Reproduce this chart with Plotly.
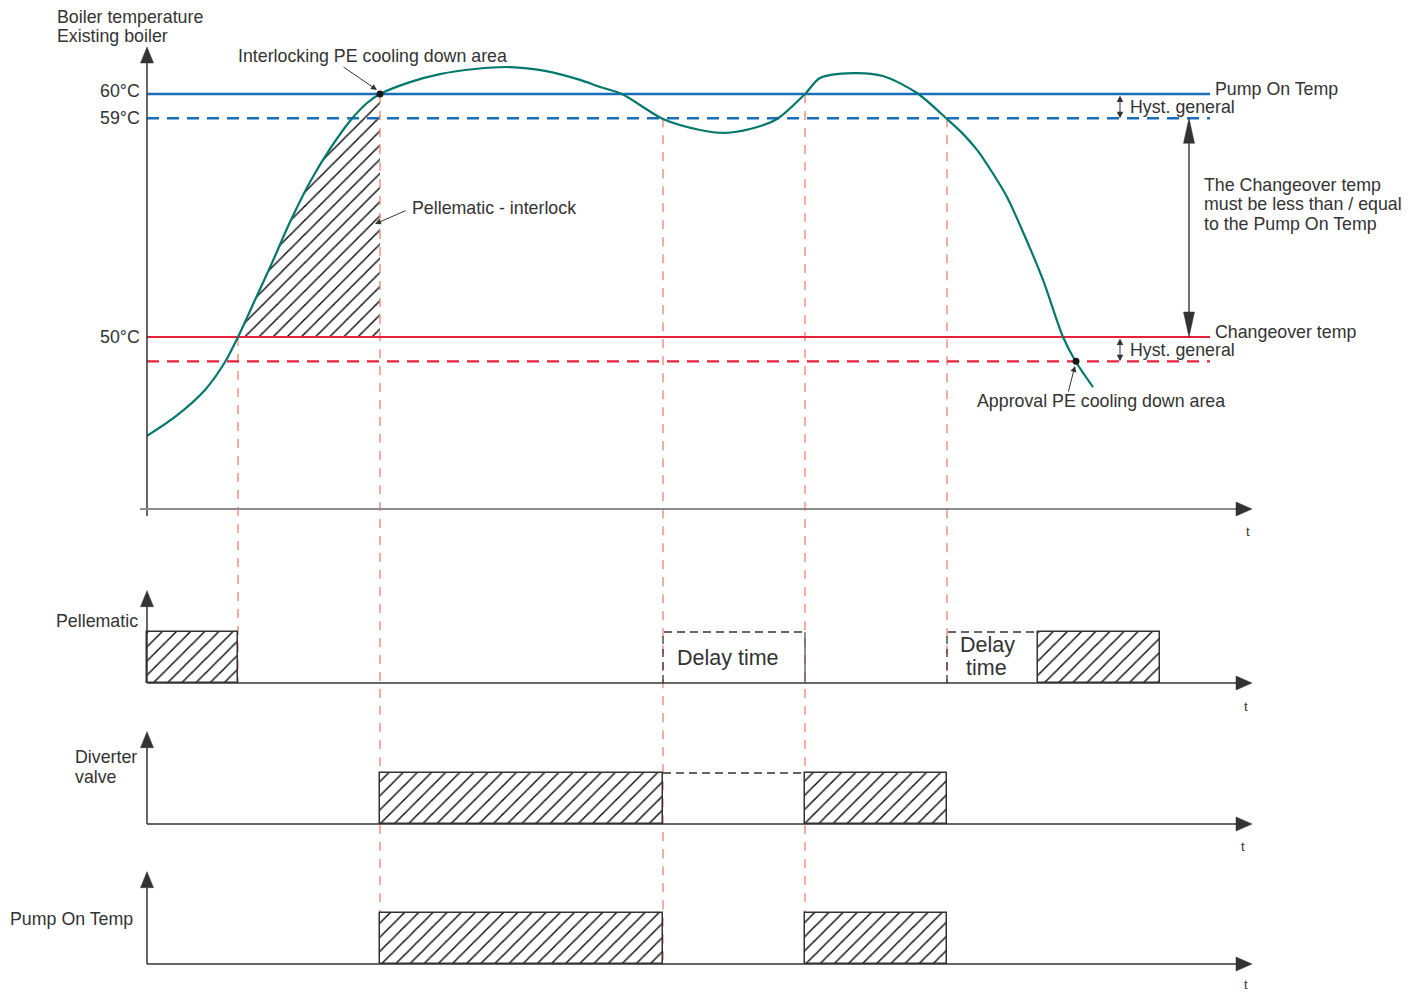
import plotly.graph_objects as go

# ---------------- data ----------------
# boiler temperature curve: time (arbitrary units) and temperature (°C)
time_pts = [0, 28, 58, 78, 91, 108, 125, 143, 163, 183, 203, 220, 233, 263, 293, 328,
            363, 398, 433, 453, 475, 516, 553, 578, 603, 630, 658, 673, 706, 736, 770,
            800, 815, 830, 845, 860, 876, 896, 916, 929, 946]
boiler_temp = [45.93, 46.71, 47.82, 48.97, 50.0, 51.52, 53.05, 54.73, 56.38, 57.74, 58.89,
               59.63, 60.0, 60.49, 60.82, 61.03, 61.11, 60.95, 60.58, 60.29, 60.0, 58.97,
               58.52, 58.40, 58.56, 58.97, 60.0, 60.66, 60.86, 60.74, 60.04, 58.97, 58.40,
               57.70, 56.79, 55.76, 54.32, 52.35, 50.0, 48.97, 47.94]

pump_on_temp = 60
hyst_general = 1
changeover_temp = 50
threshold_end = 1063
time_axis_end = 1105

# switching instants
t_above_50 = 91
t_reach_60 = 233
t_below_59_a = 516
t_above_60 = 658
t_below_59_b = 800
t_approval = 929

pellematic_on = [(0, 91), (891, 1013)]
pellematic_delay = [(516, 658), (800, 891)]
diverter_on = [(233, 516), (658, 800)]
diverter_wait = [(516, 658)]
pump_on = [(233, 516), (658, 800)]

# event lines: (time, temperature where it starts, panel where it ends)
event_lines = [(t_above_50, changeover_temp, "pel"),
               (t_reach_60, pump_on_temp, "pump"),
               (t_below_59_a, pump_on_temp - hyst_general, "pump"),
               (t_above_60, pump_on_temp, "pump"),
               (t_below_59_b, pump_on_temp - hyst_general, "pel")]

# ---------------- layout scales (screen pixels) ----------------
W, H = 1409, 984
SX0, SY0 = 8, 8        # page margin of the browser body
X_LEFT = 147           # screen column of t = 0
DEG_PX = 24.3          # pixels per °C
REF_PX = 94            # screen row of 60 °C
SIG_PX = 51            # pixels per signal level
BASE_PX = {"pel": 683, "div": 824, "pump": 964}
YAX = {"pel": "y2", "div": "y3", "pump": "y4"}


def T_py(py):
    return pump_on_temp - (py - REF_PX) / DEG_PX


def v_py(panel, py):
    return (BASE_PX[panel] - py) / SIG_PX


def sig_T(panel, v):
    return T_py(BASE_PX[panel] - v * SIG_PX)


INK = "#333333"
TEAL = "#00786c"
BLUE = "#1b6cb9"
RED = "#e5213b"
SALMON = "#f2897a"
FONT = "Liberation Sans, Arial, sans-serif"
FS = 17.8

fig = go.Figure()


def line(x, y, color=INK, width=1.5, dash="solid", yaxis="y"):
    fig.add_trace(go.Scatter(x=x, y=y, mode="lines", yaxis=yaxis, hoverinfo="skip",
                             line=dict(color=color, width=width, dash=dash)))


def tri_v(t, tip, up, length_px, width_px, px_unit, yaxis="y", color=INK):
    L = length_px / px_unit
    base = tip - L if up else tip + L
    hw = width_px / 2
    fig.add_trace(go.Scatter(x=[t - hw, t + hw, t, t - hw], y=[base, base, tip, base],
                             mode="lines", fill="toself", fillcolor=color, yaxis=yaxis,
                             line=dict(color=color, width=0.5), hoverinfo="skip"))


def tri_h(tip_t, y, length_px, width_px, px_unit, yaxis="y", color=INK):
    hw = width_px / 2 / px_unit
    b = tip_t - length_px
    fig.add_trace(go.Scatter(x=[b, b, tip_t, b], y=[y - hw, y + hw, y, y - hw],
                             mode="lines", fill="toself", fillcolor=color, yaxis=yaxis,
                             line=dict(color=color, width=0.5), hoverinfo="skip"))


HATCH = dict(shape="/", size=10, solidity=0.15, fgcolor="#111111", bgcolor="white", fgopacity=1)

# --- hatched interlock area under curve ---
hx = [t for t in time_pts if t_above_50 <= t <= t_reach_60]
hy = [boiler_temp[time_pts.index(t)] for t in hx]
fig.add_trace(go.Scatter(x=hx + [t_reach_60, t_above_50], y=hy + [changeover_temp, changeover_temp],
                         mode="lines", fill="toself", line=dict(width=0), hoverinfo="skip",
                         fillcolor="rgba(0,0,0,0)",
                         fillpattern=dict(shape="/", size=10, solidity=0.15, fgopacity=1,
                                          fgcolor="#111111", bgcolor="rgba(0,0,0,0)")))

# --- vertical event lines ---
for t, T0, panel in event_lines:
    line([t, t], [T0, sig_T(panel, 0)], color=SALMON, width=1.4, dash="9px,8px")

# --- thresholds ---
line([0, threshold_end], [pump_on_temp] * 2, color=BLUE, width=2.4)
line([0, threshold_end], [pump_on_temp - hyst_general] * 2, color=BLUE, width=2.4, dash="12px,8px")
line([0, threshold_end], [changeover_temp] * 2, color=RED, width=2.2)
line([0, threshold_end], [changeover_temp - hyst_general] * 2, color=RED, width=2.2, dash="12px,8px")

# --- temperature curve ---
fig.add_trace(go.Scatter(x=time_pts, y=boiler_temp, mode="lines", hoverinfo="skip",
                         line=dict(color=TEAL, width=2.2, shape="spline", smoothing=0.8)))
fig.add_trace(go.Scatter(x=[t_reach_60, t_approval], y=[pump_on_temp, changeover_temp - hyst_general],
                         mode="markers", marker=dict(color="#1a1a1a", size=7), hoverinfo="skip"))

# --- top panel axes ---
line([0, 0], [T_py(516), T_py(62)], width=1.5)
tri_v(0, T_py(47), True, 16, 13, DEG_PX)
line([-7, time_axis_end - 14], [T_py(509)] * 2, color="#8c8c8c", width=2)
tri_h(time_axis_end, T_py(509), 16, 14, DEG_PX)

# --- big double arrow ---
tb = 1042
line([tb, tb], [pump_on_temp - hyst_general - 0.5, changeover_temp + 0.5], width=1.4)
tri_v(tb, pump_on_temp - hyst_general, True, 25, 11, DEG_PX)
tri_v(tb, changeover_temp, False, 25, 11, DEG_PX)

# --- signal panels ---
for panel in ["pel", "div", "pump"]:
    ya = YAX[panel]
    line([0, 0], [0, 1.5], yaxis=ya)
    tri_v(0, 1.81, True, 16, 13, SIG_PX, yaxis=ya)
    line([0, time_axis_end - 14], [0, 0], yaxis=ya)
    tri_h(time_axis_end, 0, 16, 14, SIG_PX, yaxis=ya)


def bars(spans, ya):
    fig.add_trace(go.Bar(x=[(a + b) / 2 for a, b in spans], y=[1] * len(spans),
                         width=[b - a for a, b in spans], base=0, yaxis=ya, hoverinfo="skip",
                         marker=dict(color="white", line=dict(color=INK, width=1.5), pattern=HATCH)))


bars(pellematic_on, "y2")
bars(diverter_on, "y3")
bars(pump_on, "y4")

# delay boxes (dashed)
(a1, b1), (a2, b2) = pellematic_delay
line([a1, a1, b1], [0, 1, 1], dash="8px,5px", yaxis="y2", width=1.3)
line([b1, b1], [0, 1], color="#555555", yaxis="y2", width=1.3)
line([a2, a2, b2], [0, 1, 1], dash="8px,5px", yaxis="y2", width=1.3)
for a, b in diverter_wait:
    line([a, b], [1, 1], dash="8px,5px", yaxis="y3", width=1.3)

# ---------------- annotations ----------------
ann = []


def txt(text, x, y, xa="left", ya="y", size=FS, align="left"):
    ann.append(dict(text=text, x=x, y=y, xref="x", yref=ya, xanchor=xa, yanchor="middle",
                    showarrow=False, align=align, font=dict(family=FONT, size=size, color=INK)))


def arr(x, y, ax, ay, ya="y", side="end", head=2, size=1.0, width=1.0):
    ann.append(dict(text="", x=x, y=y, ax=ax, ay=ay, xref="x", yref=ya, axref="x", ayref=ya,
                    showarrow=True, arrowhead=head, arrowsize=size, arrowwidth=width,
                    arrowcolor=INK, arrowside=side, startarrowhead=head, startarrowsize=size,
                    standoff=0, startstandoff=0))


txt("Boiler temperature", -92, T_py(17))
txt("Existing boiler", -92, T_py(36))
txt("60°C", -5, T_py(91), xa="right")
txt("59°C", -5, pump_on_temp - hyst_general, xa="right")
txt("50°C", -5, changeover_temp, xa="right")
txt("Interlocking PE cooling down area", 89, T_py(56))
arr(230, T_py(90), 195, T_py(66), size=1.2)
txt("Pellematic - interlock", 263, T_py(208))
arr(228, T_py(224), 260, T_py(210), size=1.2)
txt("Pump On Temp", 1066, T_py(89))
txt("Hyst. general", 981, T_py(107))
arr(973, pump_on_temp - hyst_general, 973, pump_on_temp, side="end+start", size=1.3)
txt("The Changeover temp", 1055, T_py(185))
txt("must be less than / equal", 1055, T_py(204))
txt("to the Pump On Temp", 1055, T_py(224))
txt("Changeover temp", 1066, T_py(332))
txt("Hyst. general", 981, T_py(350))
arr(973, changeover_temp - hyst_general, 973, changeover_temp, side="end+start", size=1.3)
txt("Approval PE cooling down area", 828, T_py(401))
arr(928, T_py(366), 921, T_py(393), size=1.2)
txt("t", 1101, T_py(531), xa="center", size=13)

txt("Pellematic", -7, v_py("pel", 621), xa="right", ya="y2")
txt("Delay time", 581, v_py("pel", 658), xa="center", ya="y2", size=21.5)
txt("Delay", 840, v_py("pel", 645), xa="center", ya="y2", size=21.5)
txt("time", 839, v_py("pel", 668), xa="center", ya="y2", size=21.5)
txt("t", 1099, v_py("pel", 706), xa="center", ya="y2", size=13)
txt("Diverter", -74, v_py("div", 757), ya="y3")
txt("valve", -74, v_py("div", 777), ya="y3")
txt("t", 1096, v_py("div", 846), xa="center", ya="y3", size=13)
txt("Pump On Temp", -139, v_py("pump", 919), ya="y4")
txt("t", 1099, v_py("pump", 984), xa="center", ya="y4", size=13)

hidden = dict(visible=False, fixedrange=True)
fig.update_layout(
    width=W, height=H, margin=dict(l=0, r=0, t=0, b=0),
    paper_bgcolor="white", plot_bgcolor="white", showlegend=False, barmode="overlay",
    bargap=0,
    xaxis=dict(range=[SX0 - X_LEFT, SX0 + W - X_LEFT], **hidden),
    yaxis=dict(range=[T_py(SY0 + H), T_py(SY0)], **hidden),
    yaxis2=dict(range=[v_py("pel", SY0 + H), v_py("pel", SY0)], overlaying="y", **hidden),
    yaxis3=dict(range=[v_py("div", SY0 + H), v_py("div", SY0)], overlaying="y", **hidden),
    yaxis4=dict(range=[v_py("pump", SY0 + H), v_py("pump", SY0)], overlaying="y", **hidden),
    annotations=ann,
)

fig.write_html("out.html")
